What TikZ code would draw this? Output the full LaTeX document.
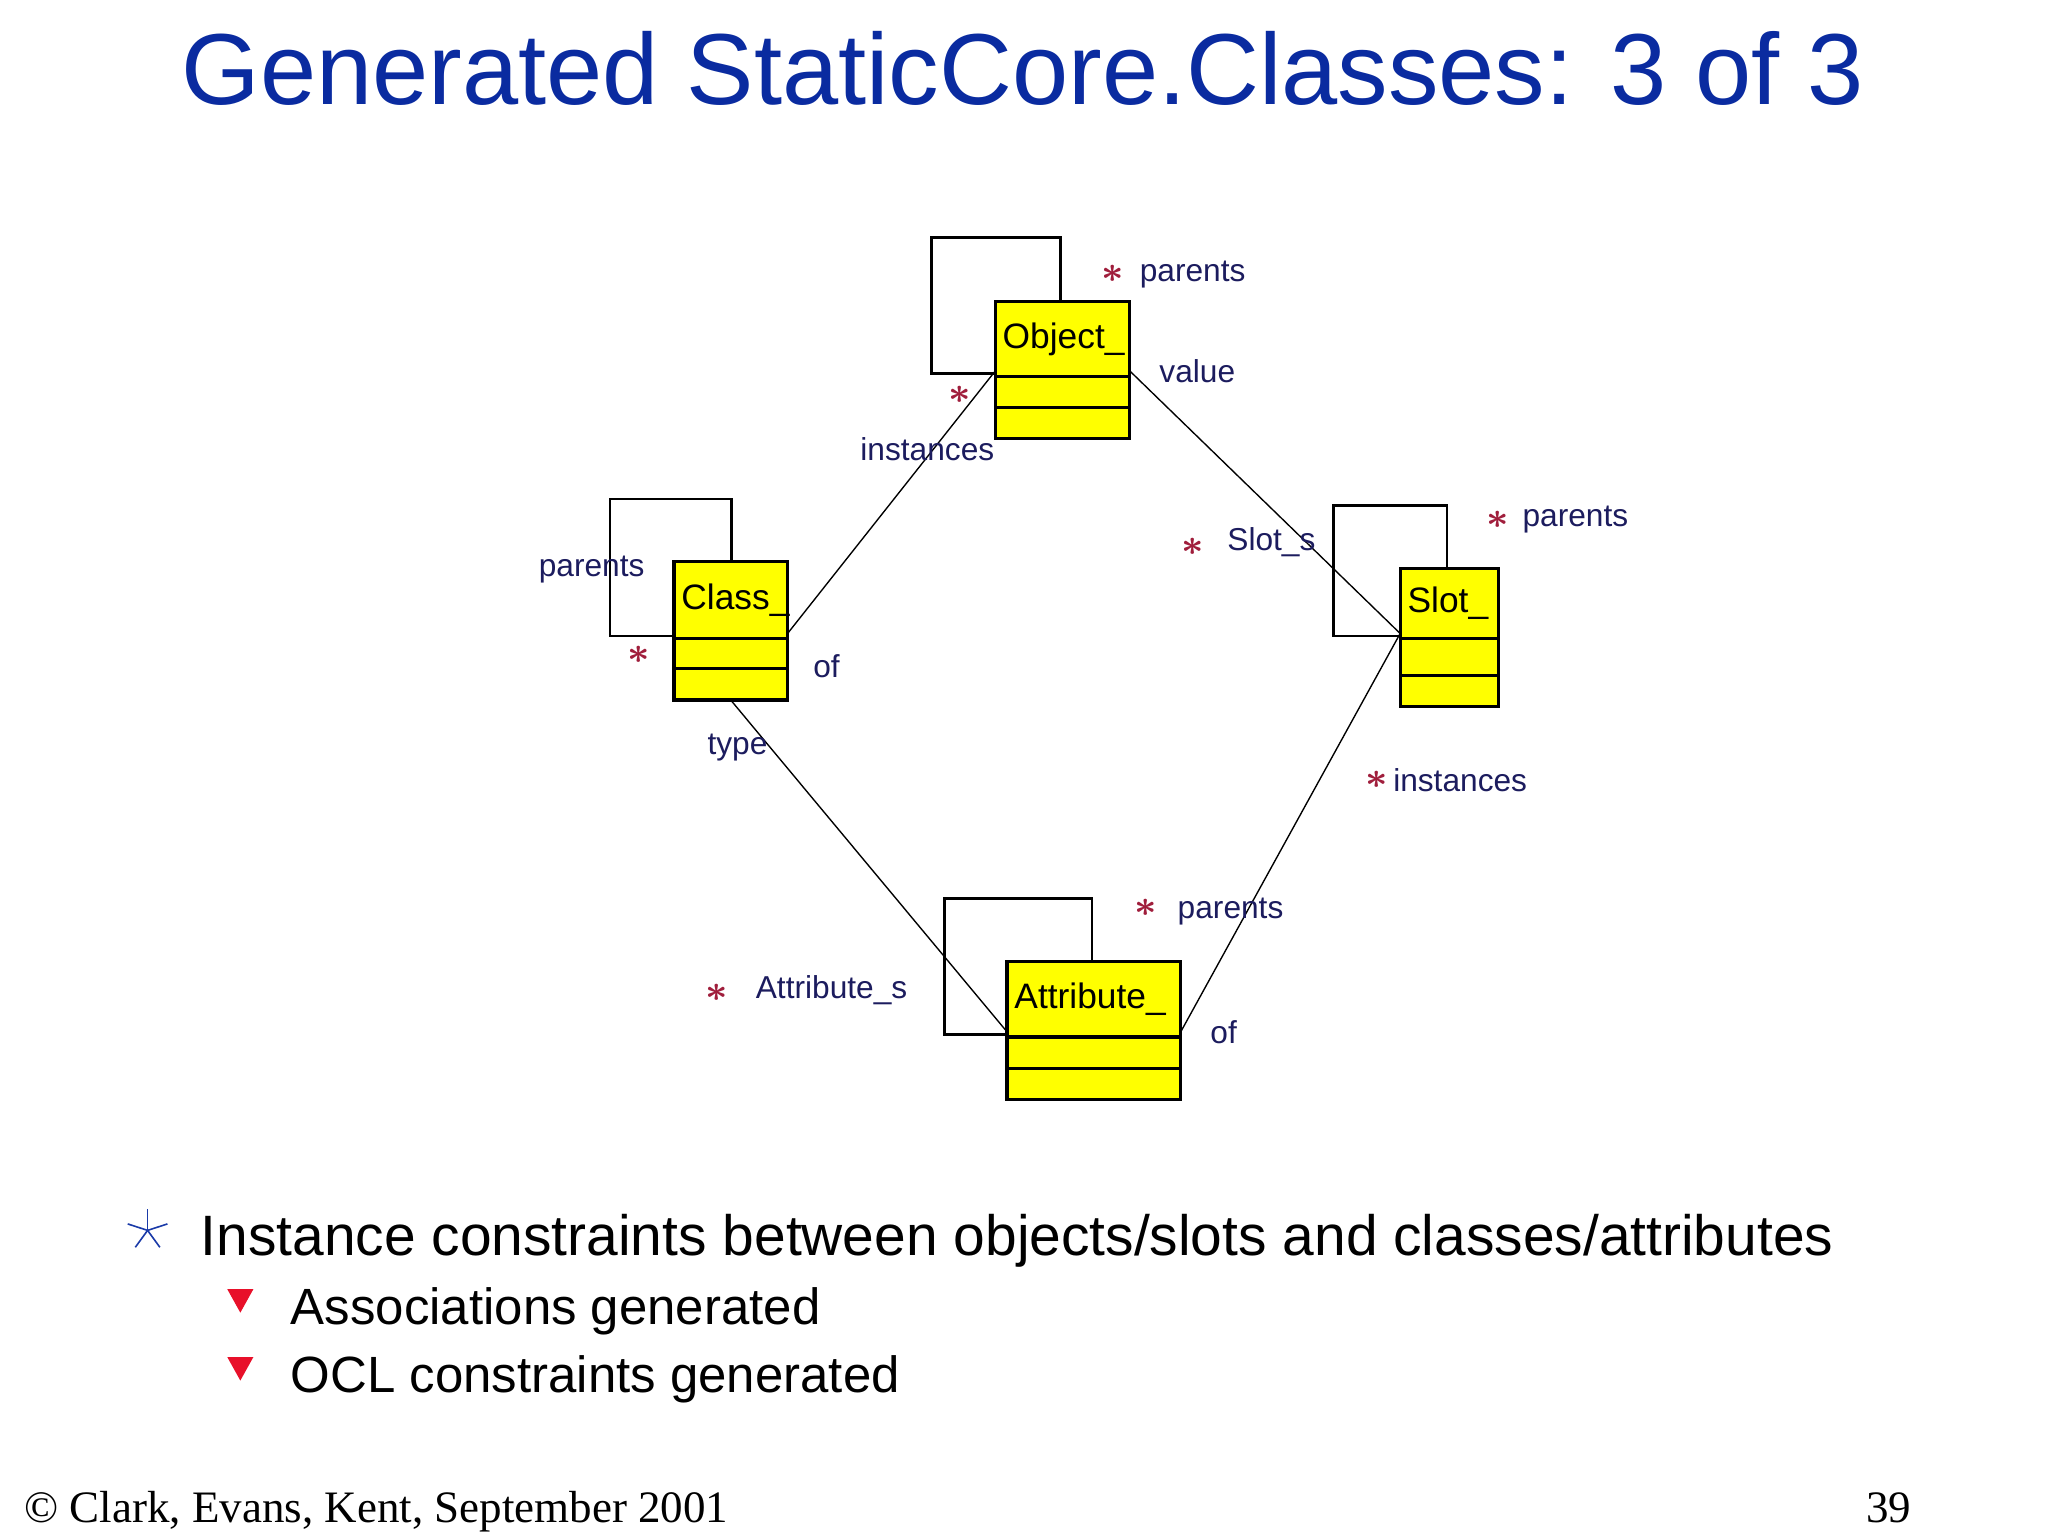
\documentclass[tikz,border=0pt]{standalone}
\usepackage{fontspec}
\setmainfont{Liberation Sans}
\newfontfamily\footfont{Liberation Serif}
\definecolor{titleblue}{HTML}{0A2BA0}
\definecolor{umlyellow}{HTML}{FFFF00}
\definecolor{lblnavy}{HTML}{1C1C5E}
\definecolor{multred}{HTML}{A01E3C}
\definecolor{trired}{HTML}{E8102A}
\definecolor{starblue}{HTML}{1A3AA8}
\tikzset{
  boxline/.style={line width=.7pt},
  loopline/.style={line width=.55pt},
  assoc/.style={line width=.3pt},
  lbl/.style={font=\fontsize{6.9}{8}\selectfont,text=lblnavy,inner sep=0pt},
  mult/.style={font=\fontsize{8.5}{8}\selectfont\boldmath,text=multred,inner sep=0pt},
  boxtext/.style={font=\fontsize{7.7}{9}\selectfont,inner sep=0pt,anchor=west},
}
\begin{document}
\begin{tikzpicture}[x=.1mm,y=-.1mm]
\useasboundingbox (0,0) rectangle (1568,1176);
\node[font=\fontsize{22}{26}\selectfont,text=titleblue,anchor=base] (title) at (783,80) {Generated StaticCore.Classes: 3 of 3};
% class boxes with their self loops
\foreach \n/\xa/\ya/\xb/\yb/\da/\db/\lx/\ty/\tx/\t in {obj/762/231/865/336/288/312/713/182/812/Object\_,cls/516/430/603/536/489/512/467/382/560/Class\_,slt/1072/435/1147/541/489/517/1021/387/1108/Slot\_,att/771/736/904/842/794/818/723/688/836/Attribute\_}{
  \draw[loopline] (\tx,\ya)--(\tx,\ty)--(\lx,\ty)--(\lx,\da-2)--(\xa,\da-2);
  \draw[boxline,fill=umlyellow] (\xa,\ya) rectangle (\xb,\yb);
  \draw[boxline] (\xa,\da)--(\xb,\da) (\xa,\db)--(\xb,\db);
  \node[boxtext] (\n) at (\xa+5,{(\ya+\da)/2}) {\t};
  \coordinate (\n-l) at (\xa,\da-4);\coordinate (\n-r) at (\xb,\da-4);\coordinate (\n-b) at ({(\xa+\xb)/2},\yb);
}
% associations
\draw[assoc] (cls-r)--(obj-l);\draw[assoc] (obj-r)--(slt-l);\draw[assoc] (cls-b)--(att-l);\draw[assoc] (slt-l)--(att-r);
% role names and multiplicities
\node[mult] (obj-pst) at (852,210){$\ast$};\node[lbl,anchor=west] (obj-par) at (872,210){parents};\node[lbl,anchor=west] (obj-val) at (887,284){value};
\node[mult] (obj-ist) at (735,302){$\ast$};\node[lbl] (obj-ins) at (710,344){instances};
\node[lbl] (cls-par) at (453,436){parents};\node[mult] (cls-pst) at (489,501){$\ast$};\node[lbl,anchor=west] (cls-of) at (622,510){of};\node[lbl,anchor=west] (cls-typ) at (541,572){type};
\node[mult] (slt-pst) at (1147,398){$\ast$};\node[lbl,anchor=west] (slt-par) at (1165,398){parents};
\node[mult] (slt-sst) at (913,419){$\ast$};\node[lbl,anchor=west] (slt-s) at (939,415){Slot\_s};
\node[mult] (slt-ist) at (1054,597){$\ast$};\node[lbl,anchor=west] (slt-ins) at (1066,597){instances};
\node[mult] (att-pst) at (877,695){$\ast$};\node[lbl,anchor=west] (att-par) at (901,698){parents};
\node[mult] (att-sst) at (549,760){$\ast$};\node[lbl,anchor=west] (att-s) at (578,758){Attribute\_s};\node[lbl,anchor=west] (att-of) at (926,790){of};
% bullets
\coordinate (blt) at (113,942);
\foreach \a in {-90,-18,54,126,198}{\draw[starblue,line width=.35pt] (blt)--++(\a:16);}
\node[font=\fontsize{12.4}{15}\selectfont,anchor=base west,inner sep=0pt] (pt1) at (153,961) {Instance constraints between objects/slots and classes/attributes};
\foreach \y/\t [count=\i] in {1014/Associations generated,1066/OCL constraints generated}{
  \fill[trired] (174,\y-27)--(194,\y-27)--(184,\y-9)--cycle;
  \node[font=\fontsize{11.1}{13}\selectfont,anchor=base west,inner sep=0pt] (sub\i) at (222,\y) {\t};
}
\node[font=\footfont\fontsize{9.8}{12}\selectfont,anchor=base west,inner sep=0pt] (foot) at (18,1166) {© Clark, Evans, Kent, September 2001};
\node[font=\footfont\fontsize{9.8}{12}\selectfont,anchor=base west,inner sep=0pt] (page) at (1428,1166) {39};
\end{tikzpicture}
\end{document}
